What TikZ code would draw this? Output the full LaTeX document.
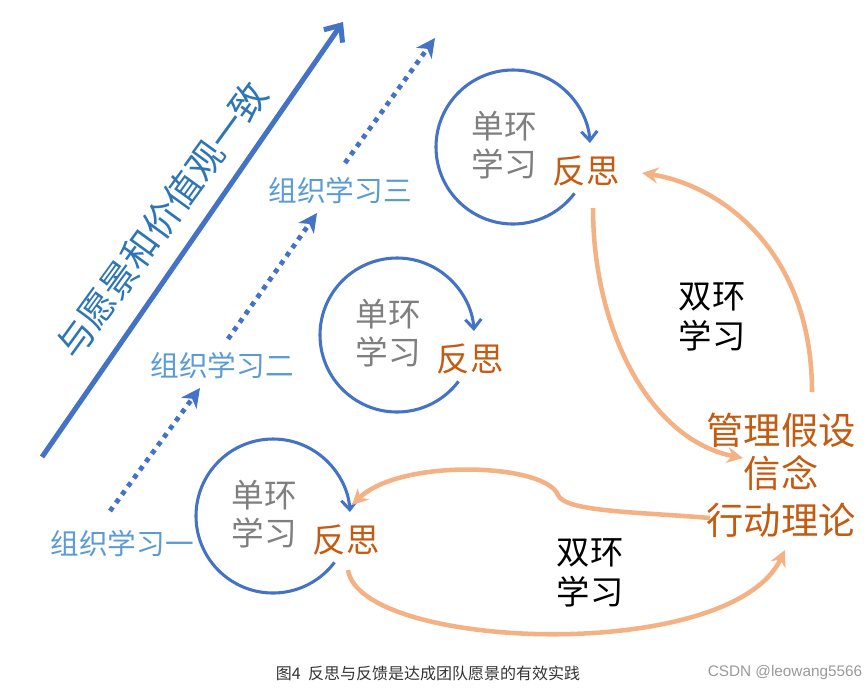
\documentclass[tikz,border=0pt]{standalone}
\usepackage{fontspec}
\setmainfont{Noto Sans CJK SC}
\setsansfont{Liberation Sans}
\usetikzlibrary{arrows.meta,calc}
\definecolor{vblue}{HTML}{4472C4}
\definecolor{tblue}{HTML}{2E75B6}
\definecolor{lblue}{HTML}{5B9BD5}
\definecolor{rust}{HTML}{C55A11}
\definecolor{peach}{HTML}{F4B183}
\definecolor{midgray}{HTML}{7F7F7F}

\begin{document}
\begin{tikzpicture}[x=0.75pt, y=0.75pt,
  vis/.style={vblue, line width=3.8pt, -{Straight Barb[length=10pt,width=17pt]}},
  vislab/.style={font=\fontsize{27.5}{30}\selectfont, text=tblue, inner sep=0pt},
  orgarr/.style={vblue, line width=3.6pt, dash pattern=on 3.6pt off 4pt, -{Stealth[length=14pt,width=14pt,inset=4pt]}},
  orglab/.style={font=\fontsize{21.5}{24}\selectfont, text=lblue, inner sep=1pt},
  sloop/.style={vblue, line width=2.3pt, -{Straight Barb[length=7pt,width=12pt]}},
  sl/.style={font=\fontsize{24.5}{28.5}\selectfont, text=midgray, align=center, inner sep=1pt},
  refl/.style={font=\fontsize{25}{28}\selectfont, text=rust, inner sep=1pt},
  dbl/.style={peach, line width=3.4pt, -{Stealth[length=12pt,width=12pt]}},
  dbllab/.style={font=\fontsize{25}{30}\selectfont, align=center, inner sep=1pt},
  belief/.style={font=\fontsize{28}{34}\selectfont, text=rust, inner sep=1pt},
  capt/.style={font=\fontsize{12}{14}\selectfont, text=black!80}]
  \useasboundingbox (0,0) rectangle (866,-694);
  % shared vision
  \coordinate (v0) at (42,-457);
  \coordinate (v1) at (343,-22);
  \draw[vis] (v0) -- (v1);
  \node[vislab, rotate=54] (vt) at (162,-220) {与愿景和价值观一致};
  % organisational learning steps
  \coordinate (o1a) at (110,-511); \coordinate (o1b) at (200,-388);
  \coordinate (o2a) at (228,-339); \coordinate (o2b) at (317,-213);
  \coordinate (o3a) at (345,-163); \coordinate (o3b) at (435,-38);
  \foreach \s/\e in {o1a/o1b, o2a/o2b, o3a/o3b}
    \draw[orgarr] (\s) -- (\e);
  \node[orglab] (org1) at (122,-543) {组织学习一};
  \node[orglab] (org2) at (222,-365) {组织学习二};
  \node[orglab] (org3) at (340,-190) {组织学习三};
  % single loops
  \coordinate (c1) at (273,-516);
  \coordinate (c2) at (397,-335);
  \coordinate (c3) at (513,-147);
  \foreach \c/\n in {c1/1, c2/2, c3/3} {
    \draw[sloop] ($(\c)+(-37:77)$) arc[start angle=-37, end angle=-357, radius=77];
    \node[sl] (s\n) at ($(\c)+(-9,2)$) {单环\\学习};
    \node[refl] (r\n) at ($(\c)+(73,-24)$) {反思};
  }
  % assumptions
  \node[belief] (a1) at (781,-430) {管理假设};
  \node[belief] (a2) at (781,-473) {信念};
  \node[belief] (a3) at (781,-520) {行动理论};
  % double loops
  \node[dbllab] (d1) at (712,-317) {双环\\学习};
  \node[dbllab] (d2) at (590,-573) {双环\\学习};
  \draw[dbl] ($(r3)+(7,-37)$) .. controls +(0,-122) and +(-93,18) .. ($(a2)+(-38,15)$);
  \draw[dbl] ($(a1)+(31,38)$) .. controls +(0,142) and +(78,-12) .. ($(r3)+(56,-2)$);
  \coordinate (kink) at (558,-495);
  \draw[dbl] ($(a3)+(-71,2)$) .. controls +(-70,6) and +(7,-17) .. (kink)
    .. controls +(-13,32) and +(48,47) .. ($(r1)+(6,35)$);
  \draw[dbl] ($(r1)+(2,-30)$) .. controls +(12,-80) and +(-55,-115) .. ($(a3)+(4,-30)$);
  % caption
  \node[capt] (fig) at (428,-673) {图4\hspace{0.45em}反思与反馈是达成团队愿景的有效实践};
  \node[font=\sffamily\fontsize{11.5}{13}\selectfont, text=black!40] (csdn) at (785,-673) {CSDN @leowang5566};
\end{tikzpicture}
\end{document}
